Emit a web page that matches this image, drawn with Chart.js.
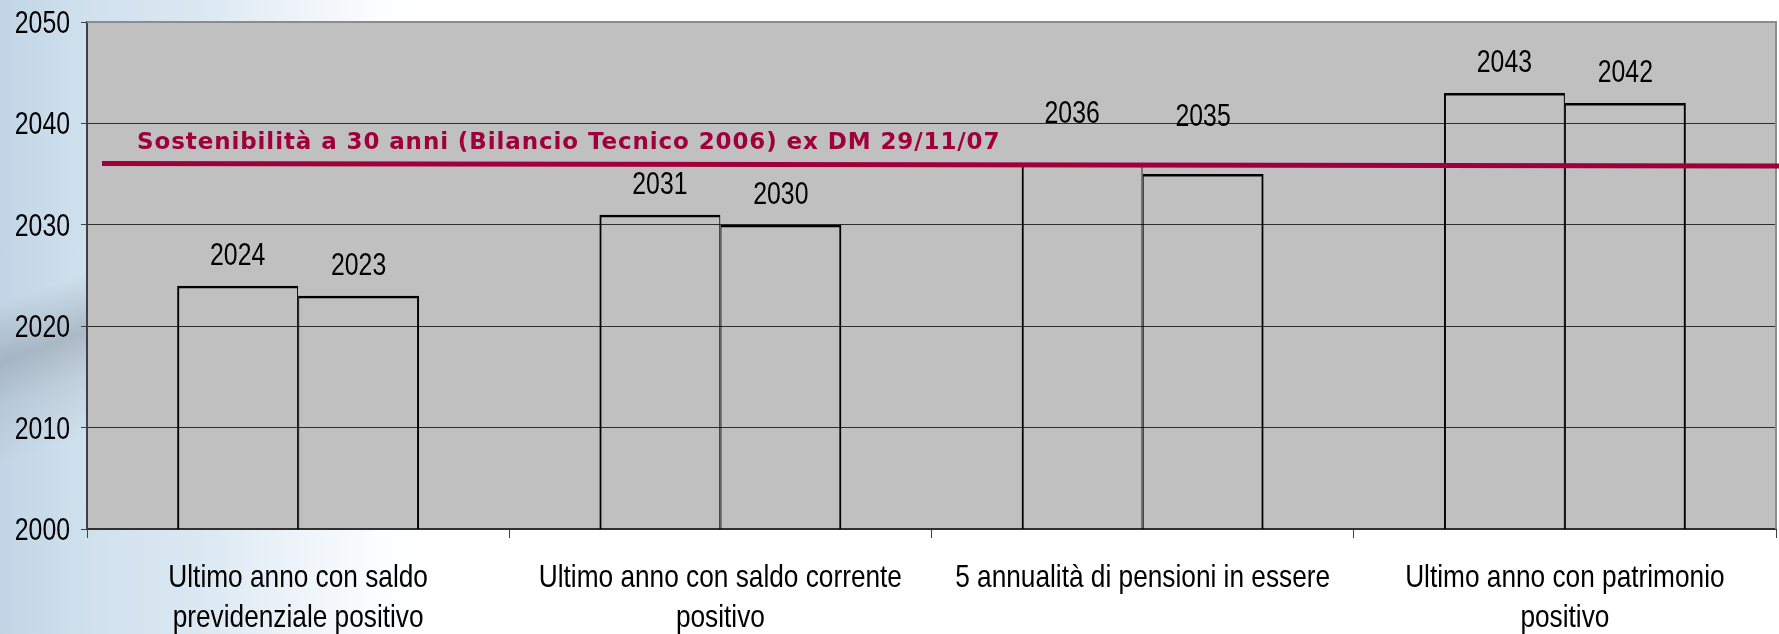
<!DOCTYPE html>
<html>
<head>
<meta charset="utf-8">
<script src="https://cdn.jsdelivr.net/npm/chart.js@4.4.1/dist/chart.umd.min.js"></script>
<style>
  html, body { margin: 0; padding: 0; }
  body {
    width: 1779px; height: 634px; overflow: hidden; position: relative;
    background: linear-gradient(to right, #c1d5e6 0px, #cfe0ed 80px, #dbe8f2 200px, #eef4f9 300px, #fbfdfe 380px, #ffffff 430px);
  }
  #streak { position: absolute; left: 0; top: 230px; width: 95px; height: 260px;
    background: linear-gradient(160deg, rgba(0,0,0,0) 25%, rgba(130,140,152,0.45) 45%, rgba(150,160,170,0.25) 60%, rgba(0,0,0,0) 80%); }
  #wrap { position: absolute; left: 0; top: 0; width: 1779px; height: 634px; }
</style>
</head>
<body>
<div id="streak"></div>
<div id="wrap"><canvas id="c" width="1779" height="634"></canvas></div>
<script>
// ---- data ----
const categories = [
  ["Ultimo anno con saldo", "previdenziale positivo"],
  ["Ultimo anno con saldo corrente", "positivo"],
  ["5 annualità di pensioni in essere"],
  ["Ultimo anno con patrimonio", "positivo"]
];
const seriesA = [2024, 2031, 2036, 2043];
const seriesB = [2023, 2030, 2035, 2042];
const sustainYear = 2036;
const sustainLabel = "Sostenibilità a 30 anni (Bilancio Tecnico 2006) ex DM 29/11/07";
const yMin = 2000, yMax = 2050, yStep = 10;

// ---- label placement tweaks (style, not data) ----
const labelTweaks = {
  "0-2": { dx: -10, lift: 20 },
  "1-2": { dx: 0, lift: 27 }
};

const SANS = "'Liberation Sans', Arial, sans-serif";
const RED = '#a0003a';

function narrowText(ctx, text, x, y, align, size, sx) {
  ctx.save();
  ctx.font = size + 'px ' + SANS;
  ctx.textAlign = align;
  ctx.textBaseline = 'alphabetic';
  ctx.translate(x, y);
  ctx.scale(sx, 1);
  ctx.fillText(text, 0, 0);
  ctx.restore();
}

const plotBg = {
  id: 'plotBg',
  beforeDraw(chart) {
    const { ctx, chartArea: a } = chart;
    ctx.save();
    ctx.fillStyle = '#c0c0c0';
    ctx.fillRect(a.left, a.top, a.right - a.left, a.bottom - a.top);
    ctx.restore();
  },
  beforeDatasetsDraw(chart) {
    const { ctx, chartArea: a } = chart;
    ctx.save();
    ctx.strokeStyle = '#8c8c8c';
    ctx.lineWidth = 2;
    ctx.beginPath();
    ctx.moveTo(a.left, a.top);
    ctx.lineTo(a.right, a.top);
    ctx.lineTo(a.right, a.bottom);
    ctx.stroke();
    ctx.restore();
  },
  afterDraw(chart) {
    const { ctx, chartArea: a, scales } = chart;
    ctx.save();
    ctx.fillStyle = '#000';
    // y tick labels
    scales.y.ticks.forEach((t, i) => {
      const py = scales.y.getPixelForTick(i);
      narrowText(ctx, String(t.value), a.left - 17, py + 11, 'right', 31, 0.80);
    });
    // x category labels
    chart.data.labels.forEach((lab, i) => {
      const px = scales.x.getPixelForTick(i);
      const lines = Array.isArray(lab) ? lab : [lab];
      lines.forEach((ln, k) => {
        narrowText(ctx, ln, px, a.bottom + 58 + k * 40, 'center', 32, 0.82);
      });
    });
    ctx.restore();
  },
  afterDatasetsDraw(chart) {
    const { ctx, chartArea: a, scales } = chart;
    // value labels
    ctx.save();
    ctx.fillStyle = '#000';
    chart.data.datasets.forEach((ds, di) => {
      chart.getDatasetMeta(di).data.forEach((bar, i) => {
        const t = labelTweaks[di + '-' + i] || { dx: 0, lift: 0 };
        narrowText(ctx, String(ds.data[i]), bar.x + t.dx, bar.y - 21 - t.lift, 'center', 31, 0.80);
      });
    });
    ctx.restore();
    // sustainability line
    const y = scales.y.getPixelForValue(sustainYear);
    ctx.save();
    ctx.strokeStyle = RED;
    ctx.lineWidth = 5;
    ctx.beginPath();
    ctx.moveTo(a.left + 15, y - 0.5);
    ctx.lineTo(chart.width, y + 2);
    ctx.stroke();
    ctx.font = 'bold 23px "DejaVu Sans", sans-serif';
    try { ctx.letterSpacing = '0.9px'; } catch (e) {}
    ctx.fillStyle = RED;
    ctx.textAlign = 'left';
    ctx.textBaseline = 'middle';
    ctx.fillText(sustainLabel, a.left + 50, y - 21);
    ctx.restore();
  }
};

new Chart(document.getElementById('c'), {
  type: 'bar',
  data: {
    labels: categories,
    datasets: [
      { label: 'A', data: seriesA, backgroundColor: 'rgba(0,0,0,0)', borderColor: '#000',
        borderWidth: { top: 2.5, left: 2, right: 1, bottom: 0 }, borderSkipped: false,
        categoryPercentage: 0.573, barPercentage: 1.0 },
      { label: 'B', data: seriesB, backgroundColor: 'rgba(0,0,0,0)', borderColor: '#000',
        borderWidth: { top: 2.5, left: 1, right: 2, bottom: 0 }, borderSkipped: false,
        categoryPercentage: 0.573, barPercentage: 1.0 }
    ]
  },
  options: {
    responsive: false,
    animation: false,
    events: [],
    layout: { padding: { left: 0, right: 3, top: 22, bottom: 0 } },
    plugins: { legend: { display: false }, tooltip: { enabled: false } },
    scales: {
      x: {
        offset: true,
        grid: { display: true, drawOnChartArea: false, drawTicks: true, tickLength: 9,
                tickColor: '#404040', offset: true, lineWidth: 1 },
        border: { display: true, color: '#303030', width: 2 },
        ticks: { display: false, autoSkip: false, maxRotation: 0 },
        afterFit(s) { s.height = 105; }
      },
      y: {
        min: yMin, max: yMax,
        ticks: { display: false, stepSize: yStep },
        grid: {
          color: c => (c.tick && c.tick.value === yMax) ? 'rgba(0,0,0,0)' : '#2e2e2e',
          lineWidth: 1, drawTicks: true, tickLength: 6, tickColor: '#404040'
        },
        border: { display: true, color: '#404040', width: 2 },
        afterFit(s) { s.width = 87; }
      }
    }
  },
  plugins: [plotBg]
});
</script>
</body>
</html>
